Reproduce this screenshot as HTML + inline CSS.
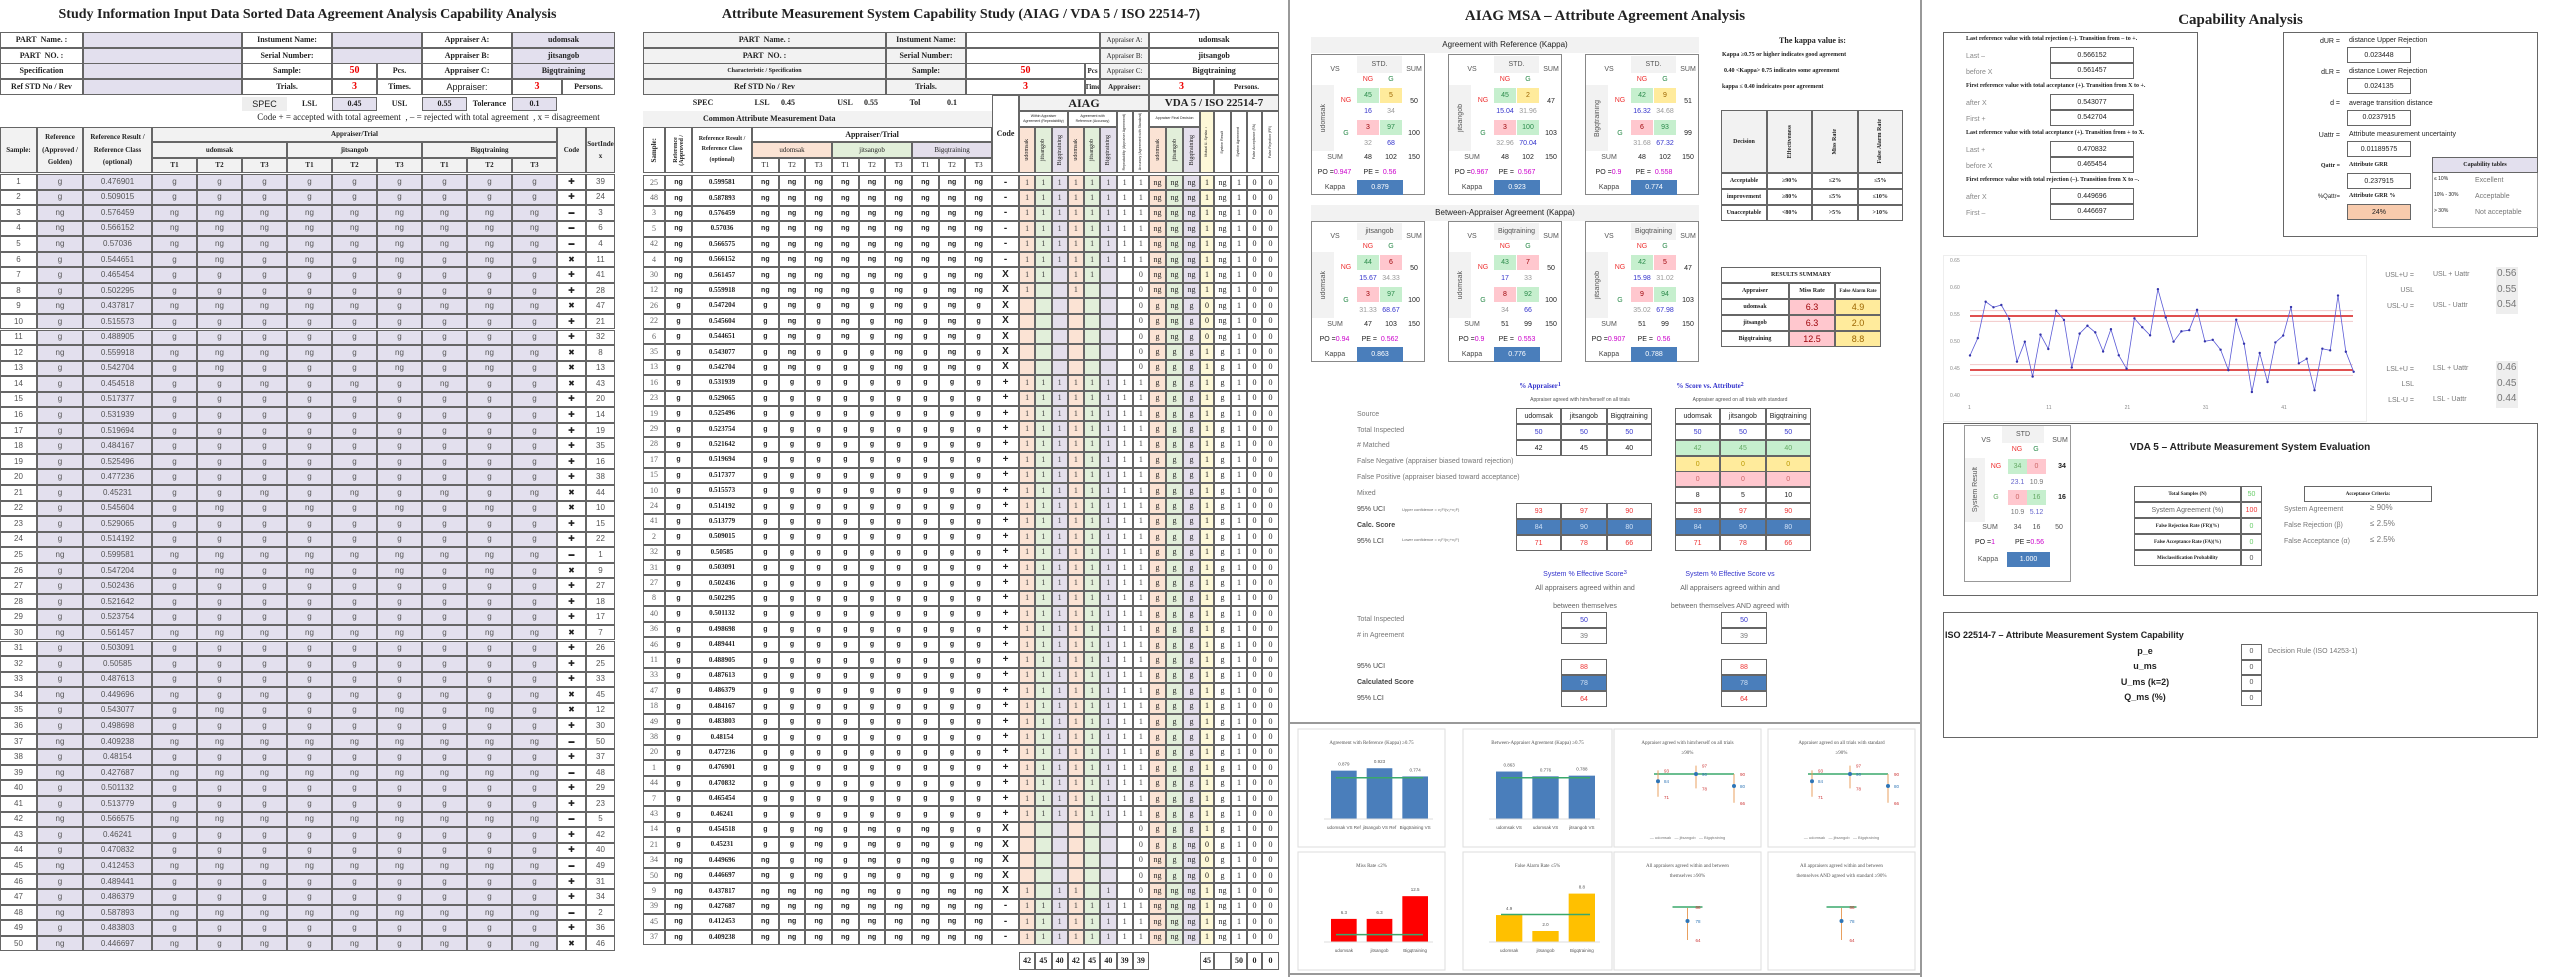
<!DOCTYPE html>
<html><head><meta charset="utf-8">
<style>
*{margin:0;padding:0;box-sizing:border-box}
body{width:2560px;height:977px;background:#fff;position:relative;overflow:hidden;font-family:"Liberation Sans",sans-serif;color:#222}
.c{position:absolute;display:flex;align-items:center;justify-content:center;text-align:center;white-space:nowrap;overflow:hidden;font-size:9px;line-height:1}
.b{border:1px solid #666}
.s{font-family:"Liberation Serif",serif;font-weight:bold}
.t{position:absolute;white-space:nowrap;line-height:1}
.rot{writing-mode:vertical-rl;transform:rotate(180deg)}
</style></head><body>
<div id="root"></div>
<svg id="sv" width="2560" height="977" style="position:absolute;left:0;top:0;pointer-events:none"></svg>
<script>
var R=document.getElementById('root');var html=[];
function c(x,y,w,h,t,st,cls){html.push('<div class="c '+(cls||'')+'" style="left:'+x+'px;top:'+y+'px;width:'+w+'px;height:'+h+'px;'+(st||'')+'">'+(t===undefined?'':t)+'</div>');}
function tx(x,y,t,st){html.push('<div class="t" style="left:'+x+'px;top:'+y+'px;'+(st||'')+'">'+t+'</div>');}
var LAV='#e3e0ee',GR='#f2f2f2',OR='#fbe3d4',GN='#e2efda',PU='#e4dfec',YE='#fdf8d8';
var V=[0.476901,0.509015,0.576459,0.566152,0.57036,0.544651,0.465454,0.502295,0.437817,0.515573,0.488905,0.559918,0.542704,0.454518,0.517377,0.531939,0.519694,0.484167,0.525496,0.477236,0.45231,0.545604,0.529065,0.514192,0.599581,0.547204,0.502436,0.521642,0.523754,0.561457,0.503091,0.50585,0.487613,0.449696,0.543077,0.498698,0.409238,0.48154,0.427687,0.501132,0.513779,0.566575,0.46241,0.470832,0.412453,0.489441,0.486379,0.587893,0.483803,0.446697];
var OFF=[0,0.012,-0.008,0.006,-0.01,0.013,-0.012,0.009,-0.004];
function gres(v,o){var x=v+o;return (x>=0.45&&x<=0.55)?'g':'ng';}
var rows=V.map(function(v,i){var ref=gres(v,0);var tr=OFF.map(function(o){return gres(v,o)});
 var allg=tr.every(function(a){return a=='g'}),alln=tr.every(function(a){return a=='ng'});
 return {s:i+1,v:v,ref:ref,tr:tr,code:allg?'+':(alln?'-':'x')};});
var sorted=rows.slice().sort(function(a,b){return b.v-a.v});
sorted.forEach(function(r,i){r.rank=i+1;});
/* ===== Panel 1 ===== */
c(0,5,615,20,'Study Information Input Data Sorted Data Agreement Analysis Capability Analysis','font-size:14px','s');
var ry=[32,48,63,79];
var L1=['PART&nbsp; Name. :','PART&nbsp; NO. :','Specification','Ref STD No / Rev'];
var L2=['Instument Name:','Serial Number:','Sample:','Trials.'];
var L3=['Appraiser A:','Appraiser B:','Appraiser C:','Appraiser:'];
var V3=['udomsak','jitsangob','Bigqtraining'];
for(var i=0;i<4;i++){var y=ry[i];
 c(0,y,83,16,L1[i],'font-size:8px','b s');c(83,y,159,16,'','background:'+LAV,'b');
 c(242,y,90,16,L2[i],'font-size:8px','b s');
 if(i<2)c(332,y,90,16,'','background:'+LAV,'b');
 else{c(332,y,45,16,i==2?'50':'3','color:#e00;font-size:10px','b s');c(377,y,45,16,i==2?'Pcs.':'Times.','font-size:8px','b s');}
 c(422,y,90,16,L3[i],i==3?'font-size:9px':'font-size:8px',i==3?'b':'b s');
 if(i<3)c(512,y,103,16,V3[i],'background:'+LAV+';font-size:8px','b s');
 else{c(512,y,50,16,'3','color:#e00;font-size:10px','b s');c(562,y,53,16,'Persons.','font-size:8px','b s');}
}
c(242,97,45,14,'SPEC','background:#eee;font-size:9px');c(287,97,45,14,'LSL','font-size:8px','s');
c(332,97,45,14,'0.45','background:'+LAV+';font-size:8px','b s');c(377,97,45,14,'USL','font-size:8px','s');
c(422,97,45,14,'0.55','background:'+LAV+';font-size:8px','b s');c(467,97,45,14,'Tolerance','font-size:8px','s');
c(512,97,45,14,'0.1','background:'+LAV+';font-size:8px','b s');
c(242,111,373,12,'Code + = accepted with total agreement&nbsp; , &ndash; = rejected with total agreement&nbsp; , x = disagreement','font-family:Liberation Serif,serif;font-size:9px');
var hb='background:'+GR+';font-size:7px';
c(0,127,37,46,'Sample:',hb,'b s');c(37,127,46,46,'Reference<br><br>(Approved /<br><br>Golden)',hb+';line-height:0.9','b s');
c(83,127,69,46,'Reference Result /<br><br>Reference Class<br><br>(optional)',hb+';line-height:0.9','b s');
c(152,127,405,15,'Appraiser/Trial',hb,'b s');
for(var a=0;a<3;a++){c(152+a*135,142,135,16,V3[a],hb,'b s');for(var t=0;t<3;t++)c(152+a*135+t*45,158,45,15,'T'+(t+1),hb,'b s');}
c(557,127,29,46,'Code',hb,'b s');c(586,127,29,46,'SortInde<br><br>x',hb+';line-height:0.9','b s');
var RH=15.55;
rows.forEach(function(r,i){var y=174+i*RH,st='background:'+LAV+';color:#555;font-size:8px';
 c(0,y,37,RH,r.s,'color:#555;font-size:8px','b');c(37,y,46,RH,r.ref,st,'b');c(83,y,69,RH,r.v,st,'b');
 for(var t=0;t<9;t++)c(152+t*45,y,45,RH,r.tr[t],st,'b');
 c(557,y,29,RH,r.code=='x'?'&#10006;':(r.code=='+'?'&#10010;':'&#9644;'),'font-size:'+(r.code=='-'?'6':'8')+'px','b');
 c(586,y,29,RH,r.rank,'color:#555;font-size:8px','b');});
/* ===== Panel 2 ===== */
c(643,5,636,20,'Attribute Measurement System Capability Study (AIAG / VDA 5 / ISO 22514-7)','font-size:14px','s');
var P2L=['PART&nbsp; Name. :','PART&nbsp; NO. :','<span style="font-size:6px">Characteristic / Specification</span>','Ref STD No / Rev'];
for(var i=0;i<4;i++){var y=ry[i];
 c(643,y,243,16,P2L[i],'background:'+GR+';font-size:8px','b s');
 c(886,y,80,16,L2[i],'background:'+GR+';font-size:8px','b s');
 if(i<2)c(966,y,134,16,'','','b');else{c(966,y,119,16,i==2?'50':'3','color:#e00;font-size:10px','b s');c(1085,y,15,16,i==2?'Pcs':'Time','font-size:7px','b s');}
 c(1100,y,49,16,L3[i],'background:'+GR+';font-size:7px;font-family:Liberation Serif,serif',i==3?'b s':'b');
 if(i<3)c(1149,y,130,16,V3[i],'font-size:8px','b s');else{c(1149,y,65,16,'3','color:#e00;font-size:10px','b s');c(1214,y,65,16,'Persons.','font-size:7px','b s');}
}
c(643,95,120,16,'SPEC','font-size:8px','s');c(752,95,20,16,'LSL','font-size:8px','s');c(776,95,24,16,'0.45','font-size:8px','s');
c(835,95,20,16,'USL','font-size:8px','s');c(860,95,22,16,'0.55','font-size:8px','s');c(905,95,20,16,'Tol','font-size:8px','s');c(942,95,20,16,'0.1','font-size:8px','s');
c(643,111,349,16,'Common Attribute Measurement Data','background:'+GR+';font-size:8px;justify-content:flex-start;padding-left:60px','s');
c(643,127,22,46,'<span class="rot">Sample:</span>','font-size:7px','b s');
c(665,127,27,46,'<span class="rot">Reference<br>(Approved /</span>','font-size:6px','b s');
c(692,127,60,46,'Reference Result /<br><br>Reference Class<br><br>(optional)','font-size:6px;line-height:0.9','b s');
var TW=26.67,TX=752;
c(TX,127,TW*9,15,'Appraiser/Trial','font-size:8px','b s');
var bc=[OR,GN,PU];
for(var a=0;a<3;a++){c(TX+a*TW*3,142,TW*3,16,V3[a],'background:'+bc[a]+';font-size:7px;font-family:Liberation Serif,serif','b');
 for(var t=0;t<3;t++)c(TX+(a*3+t)*TW,158,TW,15,'T'+(t+1),'font-size:7px;font-family:Liberation Serif,serif','b');}
c(992,95,27,78,'Code','font-size:8px','b s');
c(1019,95,130,16,'AIAG','font-size:12px;background:'+GR,'b s');
c(1149,95,130,16,'VDA 5 / ISO 22514-7','font-size:11px;background:'+GR,'b s');
c(1019,111,49,16,'Within Appraiser<br>Agreement (Repeatability)','font-size:3.5px;line-height:1.4','b');
c(1068,111,49,16,'Agreement with<br>Reference (Accuracy)','font-size:3.5px;line-height:1.4','b');
c(1117,111,16,62,'<span class="rot">Repeatability (Appraiser Agreement)</span>','font-size:3.5px','b');
c(1133,111,16,62,'<span class="rot">Accuracy (Agreement with Standard)</span>','font-size:3.5px','b');
c(1149,111,51,16,'Appraiser Final Decision','font-size:3.5px','b');
var ax=[1019,1035.25,1051.5,1067.75,1084,1100.25];
for(var k=0;k<6;k++)c(ax[k],127,16.25,46,'<span class="rot">'+V3[k%3]+'</span>','font-size:6px;font-family:Liberation Serif,serif;background:'+bc[k%3],'b');
var vx=[1149,1166,1183,1200,1214,1231,1247,1262,1279];
for(var k=0;k<3;k++)c(vx[k],127,17,46,'<span class="rot">'+V3[k]+'</span>','font-size:6px;font-family:Liberation Serif,serif;background:'+bc[k],'b');
var vl=['Mutual U- Syntax ↓','System Result','System Agreement','False Acceptance (FA)','False Rejection (FR)'];
for(var k=3;k<8;k++)c(vx[k],111,vx[k+1]-vx[k],62,'<span class="rot">'+vl[k-3]+'</span>','font-size:3.5px;'+(k==3?'background:'+YE:''),'b');
var RH2=15.4;
sorted.forEach(function(r,i){var y=175+i*RH2,fs='font-size:7px;font-weight:bold';
 c(643,y,22,RH2,r.s,'color:#666;font-size:8px;font-family:Liberation Serif,serif','b');
 c(665,y,27,RH2,r.ref,fs,'b');c(692,y,60,RH2,r.v,'font-size:7px;font-family:Liberation Serif,serif;font-weight:bold','b');
 for(var t=0;t<9;t++)c(TX+t*TW,y,TW,RH2,r.tr[t],fs,'b');
 c(992,y,27,RH2,r.code=='x'?'X':(r.code=='+'?'+':'-'),'font-size:10px;font-weight:bold','b');
 var w=[0,1,2].map(function(a){var s=r.tr.slice(a*3,a*3+3);return s[0]==s[1]&&s[1]==s[2];});
 var acc=[0,1,2].map(function(a){return w[a]&&r.tr[a*3]==r.ref;});
 var rep=r.code!='x',accAll=rep&&r.tr[0]==r.ref;
 var vals=[w[0],w[1],w[2],acc[0],acc[1],acc[2]];
 for(var k=0;k<6;k++)c(ax[k],y,16.25,RH2,vals[k]?'1':'','font-size:8px;font-family:Liberation Serif,serif;color:#444;background:'+bc[k%3],'b');
 c(1116.5,y,16.25,RH2,rep?'1':'','font-size:8px;font-family:Liberation Serif,serif;color:#444','b');
 c(1132.75,y,16.25,RH2,rep?'1':'0','font-size:8px;font-family:Liberation Serif,serif;color:#444','b');
 var fin=[0,1,2].map(function(a){var s=r.tr.slice(a*3,a*3+3),g=s.filter(function(q){return q=='g'}).length;return g>=2?'g':'ng';});
 for(var k=0;k<3;k++)c(vx[k],y,17,RH2,fin[k],'font-size:8px;font-family:Liberation Serif,serif;background:'+bc[k],'b');
 var agr=fin[0]==fin[1]&&fin[1]==fin[2];
 c(1200,y,14,RH2,agr?'1':'0','font-size:8px;font-family:Liberation Serif,serif;background:'+YE,'b');
 c(1214,y,17,RH2,fin[1],'font-size:8px;font-family:Liberation Serif,serif','b');
 c(1231,y,16,RH2,'1','font-size:8px;font-family:Liberation Serif,serif','b');
 c(1247,y,15,RH2,'0','font-size:8px;font-family:Liberation Serif,serif','b');
 c(1262,y,17,RH2,'0','font-size:8px;font-family:Liberation Serif,serif','b');});
var tot=['42','45','40','42','45','40','39','39'];
for(var k=0;k<8;k++)c(1019+k*16.25,952,16.25,18,tot[k],'font-size:8px','b s');
c(1200,952,14,18,'45','font-size:8px','b s');c(1214,952,17,18,'','','b');c(1231,952,16,18,'50','font-size:8px','b s');c(1247,952,15,18,'0','font-size:8px','b s');c(1262,952,17,18,'0','font-size:8px','b s');
/* separators */
c(1288,0,2,977,'','background:#999');c(1920,0,2,977,'','background:#999');
/* ===== Panel 3 ===== */
c(1300,5,610,22,'AIAG MSA &ndash; Attribute Agreement Analysis','font-size:15px','s');
c(1311,37,388,16,'Agreement with Reference (Kappa)','background:'+GR+';font-size:8px');
c(1311,205,388,16,'Between-Appraiser Agreement (Kappa)','background:'+GR+';font-size:8px');
var GC='background:#c6efce;color:#2a8a4a',YC='background:#ffeb9c;color:#9c6500',PC='background:#ffc7ce;color:#9c0006';
function kbox(x,y,lab,hdr,cells,cs,ex,rs,cols,po,pe,kap){
 html.push('<div style="position:absolute;left:'+x+'px;top:'+y+'px;width:114px;height:141px;border:1px solid #888">');
 c(45,1,45,17,hdr,'background:'+GR+';font-size:7px;color:#555');
 c(10,8,26,12,'VS','font-size:7px;color:#555');c(92,8,20,12,'SUM','font-size:7px;color:#555');
 c(45,19,22,10,'NG','font-size:7px;color:#e33');c(68,19,22,10,'G','font-size:7px;color:#2a8a4a');
 c(0,30,22,66,'<span class="rot">'+lab+'</span>','background:'+GR+';font-size:7px;color:#555');
 c(24,38,20,14,'NG','font-size:7px;color:#e33');c(24,71,20,14,'G','font-size:7px;color:#2a8a4a');
 c(45,33,22,15,cells[0],cs[0]+';font-size:7px');c(68,33,22,15,cells[1],cs[1]+';font-size:7px');
 c(45,65,22,15,cells[2],cs[2]+';font-size:7px');c(68,65,22,15,cells[3],cs[3]+';font-size:7px');
 c(45,50,22,12,ex[0],'font-size:7px;color:#33c');c(68,50,22,12,ex[1],'font-size:7px;color:#999');
 c(45,82,22,12,ex[2],'font-size:7px;color:#999');c(68,82,22,12,ex[3],'font-size:7px;color:#33c');
 c(92,40,20,12,rs[0],'font-size:7px');c(92,72,20,12,rs[1],'font-size:7px');
 c(8,96,30,13,'SUM','font-size:7px;color:#555');c(45,96,22,13,cols[0],'font-size:7px');c(68,96,22,13,cols[1],'font-size:7px');c(92,96,20,13,cols[2],'font-size:7px');
 c(0,111,45,13,'PO = <span style="color:#c0c">'+po+'</span>','font-size:7px');c(45,111,46,13,'PE = &nbsp;<span style="color:#c0c">'+pe+'</span>','font-size:7px');
 c(8,125,30,15,'Kappa','font-size:7px;color:#444');c(45,125,46,15,kap,'background:#4a7ebb;color:#fff;font-size:7px');
 html.push('</div>');}
kbox(1311,54,'udomsak','STD.',[45,5,3,97],[GC,YC,PC,GC],['16','34','32','68'],[50,100],[48,102,150],'0.947','0.56','0.879');
kbox(1448,54,'jitsangob','STD.',[45,2,3,100],[GC,YC,PC,GC],['15.04','31.96','32.96','70.04'],[47,103],[48,102,150],'0.967','0.567','0.923');
kbox(1585,54,'Bigqtraining','STD.',[42,9,6,93],[GC,YC,PC,GC],['16.32','34.68','31.68','67.32'],[51,99],[48,102,150],'0.9','0.558','0.774');
kbox(1311,221,'udomsak','jitsangob',[44,6,3,97],[GC,PC,PC,GC],['15.67','34.33','31.33','68.67'],[50,100],[47,103,150],'0.94','0.562','0.863');
kbox(1448,221,'udomsak','Bigqtraining',[43,7,8,92],[GC,PC,PC,GC],['17','33','34','66'],[50,100],[51,99,150],'0.9','0.553','0.776');
kbox(1585,221,'jitsangob','Bigqtraining',[42,5,9,94],[GC,PC,PC,GC],['15.98','31.02','35.02','67.98'],[47,103],[51,99,150],'0.907','0.56','0.788');
c(1722,34,181,14,'The kappa value is:','font-size:8px','s');
tx(1722,52,'Kappa &ge;0.75 or higher indicates good agreement','font-size:6px;font-family:Liberation Serif,serif;font-weight:bold');
tx(1724,68,'0.40 &lt;Kappa&gt; 0.75 indicates some agreement','font-size:6px;font-family:Liberation Serif,serif;font-weight:bold');
tx(1722,84,'kappa &le; 0.40 indeicates poor agreement','font-size:6px;font-family:Liberation Serif,serif;font-weight:bold');
c(1721,110,46,63,'Decision','background:'+GR+';font-size:6px','b s');
var dh=['Effectiveness','Miss Rate','False Alarm Rate'];
for(var k=0;k<3;k++)c(1767+k*45.3,110,45.3,63,'<span class="rot">'+dh[k]+'</span>','background:'+GR+';font-size:6px','b s');
var dr=[['Acceptable','&ge;90%','&le;2%','&le;5%'],['improvement','&ge;80%','&le;5%','&le;10%'],['Unacceptable','&lt;80%','&gt;5%','&gt;10%']];
for(var r=0;r<3;r++){c(1721,173+r*16,46,16,dr[r][0],'font-size:6px','b s');for(var k=0;k<3;k++)c(1767+k*45.3,173+r*16,45.3,16,dr[r][k+1],'font-size:6px','b s');}
c(1721,267,160,16,'RESULTS SUMMARY','font-size:6px','b s');
c(1721,283,68,16,'Appraiser','font-size:6px','b s');c(1789,283,46,16,'Miss Rate','font-size:6px','b s');c(1835,283,46,16,'False Alarm Rate','font-size:5px','b s');
var rs=[['udomsak','6.3','4.9'],['jitsangob','6.3','2.0'],['Bigqtraining','12.5','8.8']];
for(var r=0;r<3;r++){c(1721,299+r*16,68,16,rs[r][0],'font-size:6px','b s');c(1789,299+r*16,46,16,rs[r][1],'background:#ffc7ce;color:#9c0006;font-size:9px','b');c(1835,299+r*16,46,16,rs[r][2],'background:#ffeb9c;color:#9c6500;font-size:9px','b');}
c(1480,380,120,12,'% Appraiser<sup>1</sup>','color:#33c;font-size:7px','s');
c(1650,380,120,12,'% Score vs. Attribute<sup>2</sup>','color:#33c;font-size:7px','s');
c(1490,395,180,10,'Appraiser agreed with him/herself on all trials','font-size:5px;color:#555');
c(1650,395,180,10,'Appraiser agreed on all trials with standard','font-size:5px;color:#555');
var lb=['Source','Total Inspected','# Matched','False Negative (appraiser biased toward rejection)','False Positive (appraiser biased toward acceptance)','Mixed'];
for(var k=0;k<6;k++)tx(1357,411+k*15.7,lb[k],'font-size:7px;color:#777');
tx(1357,506,'95% UCI','font-size:7px;color:#444');tx(1357,522,'Calc. Score','font-size:7px;color:#444;font-weight:bold');tx(1357,538,'95% LCI','font-size:7px;color:#444');
tx(1402,508,'Upper confidence = <span style="font-size:4px">v₂F/(v₁+v₂F)</span>','font-size:4px;color:#666');
tx(1402,538,'Lower confidence = <span style="font-size:4px">v₁F/(v₂+v₁F)</span>','font-size:4px;color:#666');
function small3(x,cols){for(var k=0;k<3;k++){var xx=x+k*45.3;
 c(xx,408,45.3,16,V3[k],'font-size:7px','b');c(xx,424,45.3,16,'50','font-size:7px;color:#33c','b');
 for(var j=0;j<cols.length;j++){var o=cols[j];c(xx,o.y,45.3,o.h||16,o.v[k],'font-size:7px;'+(o.s||''),o.nb?'':'b');}}}
small3(1516,[{y:440,v:['42','45','40']},{y:503,v:['93','97','90'],s:'color:#e33'},{y:519,v:['84','90','80'],s:'background:#4a7ebb;color:#cfe0f5'},{y:535,v:['71','78','66'],s:'color:#e33'}]);
small3(1675,[{y:440,v:['42','45','40'],s:'background:#c6efce;color:#6a6'},{y:456,v:['0','0','0'],s:'background:#ffeb9c;color:#b90'},{y:471,v:['0','0','0'],s:'background:#ffc7ce;color:#c66'},{y:487,v:['8','5','10']},{y:503,v:['93','97','90'],s:'color:#e33'},{y:519,v:['84','90','80'],s:'background:#4a7ebb;color:#cfe0f5'},{y:535,v:['71','78','66'],s:'color:#e33'}]);
c(1500,568,170,12,'System % Effective Score<sup>3</sup>','color:#33c;font-size:7px');
c(1500,582,170,12,'All appraisers agreed within and','font-size:7px;color:#666');
c(1500,600,170,12,'between themselves','font-size:7px;color:#666');
c(1640,568,180,12,'System % Effective Score vs','color:#33c;font-size:7px');
c(1640,582,180,12,'All appraisers agreed within and','font-size:7px;color:#666');
c(1640,600,180,12,'between themselves AND agreed with','font-size:7px;color:#666');
tx(1357,616,'Total Inspected','font-size:7px;color:#777');tx(1357,632,'# in Agreement','font-size:7px;color:#777');
tx(1357,663,'95% UCI','font-size:7px;color:#444');tx(1357,679,'Calculated Score','font-size:7px;color:#444;font-weight:bold');tx(1357,695,'95% LCI','font-size:7px;color:#444');
[1561,1721].forEach(function(x){c(x,612,46,16,'50','font-size:7px;color:#33c','b');c(x,628,46,16,'39','font-size:7px;color:#777','b');
 c(x,659,46,16,'88','font-size:7px;color:#e33','b');c(x,675,46,16,'78','font-size:7px;background:#4a7ebb;color:#cfe0f5','b');c(x,691,46,16,'64','font-size:7px;color:#e33','b');});
c(1290,722,632,2,'','background:#999');c(1290,973,632,2,'','background:#999');
/* ===== Panel 4 ===== */
c(1943,8,595,24,'Capability Analysis','font-size:15px','s');
c(1943,32,255,205,'','','b');c(2283,32,255,205,'','','b');
var hl=['Last reference value with total rejection (&ndash;). Transition from &ndash; to +.','First reference value with total acceptance (+). Transition from X to +.','Last reference value with total acceptance (+). Transition from + to X.','First reference value with total rejection (&ndash;). Transition from X to &ndash;.'];
var sl=[['Last &ndash;','before X'],['after X','First +'],['Last +','before X'],['after X','First &ndash;']];
var sv=[['0.566152','0.561457'],['0.543077','0.542704'],['0.470832','0.465454'],['0.449696','0.446697']];
for(var k=0;k<4;k++){var y0=36+k*47;tx(1966,y0,hl[k],'font-size:6px;font-family:Liberation Serif,serif;font-weight:bold');
 for(var j=0;j<2;j++){tx(1966,y0+17+j*15.7,sl[k][j],'font-size:7px;color:#888');c(2050,y0+11+j*15.7,84,16,sv[k][j],'font-size:7px','b');}}
var ql=[['dUR =','distance Upper Rejection','0.023448'],['dLR =','distance Lower Rejection','0.024135'],['d =','average transition distance','0.0237915'],['Uattr =','Attribute measurement uncertainty','0.01189575']];
for(var k=0;k<4;k++){var y0=36+k*31.4;c(2300,y0,40,10,ql[k][0],'font-size:7px;justify-content:flex-end');tx(2349,y0+1,ql[k][1],'font-size:7px');c(2347,y0+11,64,16,ql[k][2],'font-size:7px','b');}
c(2300,161,40,10,'Qattr =','font-size:6px;justify-content:flex-end','s');tx(2349,162,'Attribute GRR','font-size:6px;font-family:Liberation Serif,serif;font-weight:bold');
c(2347,173,64,16,'0.237915','font-size:7px','b');
c(2300,192,40,10,'%Qattr=','font-size:6px;justify-content:flex-end');tx(2349,193,'Attribute GRR %','font-size:6px;font-family:Liberation Serif,serif;font-weight:bold');
c(2347,204,64,16,'24%','font-size:7px;background:#f8cbad','b');
c(2432,157,106,16,'Capability tables','background:'+LAV+';font-size:6px','b s');
html.push('<div style="position:absolute;left:2432px;top:173px;width:106px;height:55px;border:1px solid #999;border-top:none"></div>');
var ct=[['&le; 10%','Excellent'],['10% - 30%','Acceptable'],['&gt; 30%','Not acceptable']];
for(var k=0;k<3;k++){tx(2434,177+k*16,ct[k][0],'font-size:5px');tx(2475,177+k*16,ct[k][1],'font-size:7px;color:#777');}
c(1943,255,424,167,'','border:1px solid #eee');
var yl=['0.65','0.60','0.55','0.50','0.45','0.40'];
for(var k=0;k<6;k++)tx(1950,259+k*27,yl[k],'font-size:5px;color:#888');
var xl=['1','11','21','31','41'];for(var k=0;k<5;k++)tx(1968+k*78.3,406,xl[k],'font-size:5px;color:#888');
var sl2=[['USL+U =','USL + Uattr','0.56'],['USL','','0.55'],['USL-U =','USL - Uattr','0.54']];
var ll2=[['LSL+U =','LSL + Uattr','0.46'],['LSL','','0.45'],['LSL-U =','LSL - Uattr','0.44']];
c(2496,267,22,47,'','background:#eee');c(2496,361,22,47,'','background:#eee');
for(var k=0;k<3;k++){c(2372,270+k*15.7,42,10,sl2[k][0],'font-size:7px;color:#777;justify-content:flex-end');tx(2433,271+k*15.7,sl2[k][1],'font-size:7px;color:#777');tx(2497,269+k*15.7,sl2[k][2],'font-size:10px;color:#777');
 c(2372,364+k*15.7,42,10,ll2[k][0],'font-size:7px;color:#777;justify-content:flex-end');tx(2433,365+k*15.7,ll2[k][1],'font-size:7px;color:#777');tx(2497,363+k*15.7,ll2[k][2],'font-size:10px;color:#777');}
c(1943,423,595,173,'','','b');
c(2120,441,260,14,'VDA 5 &ndash; Attribute Measurement System Evaluation','font-size:10px;font-weight:bold');
html.push('<div style="position:absolute;left:1964px;top:425px;width:107px;height:157px;border:1px solid #999">');
c(37,0,42,17,'STD','background:'+GR+';font-size:7px;color:#555');c(10,8,22,12,'VS','font-size:7px;color:#555');c(84,8,22,12,'SUM','font-size:7px;color:#555');
c(43,17,18,12,'NG','font-size:7px;color:#e33');c(62,17,18,12,'G','font-size:7px;color:#2a8a4a');
c(0,32,20,64,'<span class="rot">System Result</span>','background:'+GR+';font-size:7px;color:#555');
c(22,33,18,15,'NG','font-size:7px;color:#e33');c(43,33,19,15,'34','background:#c6efce;color:#6a6;font-size:7px');c(62,33,19,15,'0','background:#ffc7ce;color:#c66;font-size:7px');c(88,33,18,15,'34','font-size:7px;font-weight:bold');
c(43,50,19,12,'23.1','font-size:7px;color:#66c');c(62,50,19,12,'10.9','font-size:7px;color:#777');
c(22,64,18,15,'G','font-size:7px;color:#6a6');c(43,64,19,15,'0','background:#ffc7ce;color:#c66;font-size:7px');c(62,64,19,15,'16','background:#c6efce;color:#6a6;font-size:7px');c(88,64,18,15,'16','font-size:7px;font-weight:bold');
c(43,80,19,12,'10.9','font-size:7px;color:#777');c(62,80,19,12,'5.12','font-size:7px;color:#66c');
c(10,94,30,14,'SUM','font-size:7px;color:#555');c(43,94,19,14,'34','font-size:7px;color:#555');c(62,94,19,14,'16','font-size:7px;color:#555');c(84,94,20,14,'50','font-size:7px;color:#555');
c(0,110,40,13,'PO = <span style="color:#c0c">1</span>','font-size:7px');c(42,110,45,13,'PE = <span style="color:#c0c">0.56</span>','font-size:7px');
c(8,126,30,15,'Kappa','font-size:7px;color:#555');c(42,126,43,15,'1.000','background:#4a7ebb;color:#fff;font-size:7px');
html.push('</div>');
var vt=[['Total Samples (N)','50','#6c6'],['System Agreement (%)','100','#e33'],['False Rejection Rate (FR)(%)','0','#6c6'],['False Acceptance Rate (FA)(%)','0','#6c6'],['Misclassification Probability','0','#555']];
for(var k=0;k<5;k++){c(2134,486+k*16,107,16,vt[k][0],k==1?'font-size:7px;color:#666':'font-size:5px','b'+(k==1?'':' s'));c(2241,486+k*16,21,16,vt[k][1],'font-size:7px;color:'+vt[k][2],'b');}
c(2304,486,128,16,'Acceptance Criteria:','font-size:5px','b s');
var ac=[['System Agreement','&ge; 90%'],['False Rejection (&beta;)','&le; 2.5%'],['False Acceptance (&alpha;)','&le; 2.5%']];
for(var k=0;k<3;k++){tx(2284,506+k*16,ac[k][0],'font-size:7px;color:#777');tx(2370,504+k*16,ac[k][1],'font-size:8px;color:#777');}
c(1943,612,595,126,'','','b');
tx(1945,631,'ISO 22514-7 &ndash; Attribute Measurement System Capability','font-size:9px;font-weight:bold');
var il=['p_e','u_ms','U_ms (k=2)','Q_ms (%)'];
for(var k=0;k<4;k++){c(2100,644+k*15.5,90,14,il[k],'font-size:9px;font-weight:bold');c(2241,644+k*15.5,21,15.5,'0','font-size:7px;color:#555','b');}
tx(2268,648,'Decision Rule (ISO 14253-1)','font-size:7px;color:#777');
R.innerHTML=html.join('');
/* SVG graphics */
var s=[];
function Y(v){return 262+(0.65-v)/0.25*135;}
[[0.56,'#f3c8c8',1],[0.55,'#e05050',2],[0.54,'#f3c8c8',1],[0.46,'#f3c8c8',1],[0.45,'#e05050',2],[0.44,'#f3c8c8',1]].forEach(function(l){s.push('<line x1="1970" x2="2353" y1="'+Y(l[0])+'" y2="'+Y(l[0])+'" stroke="'+l[1]+'" stroke-width="'+l[2]+'"/>');});
var pts=V.map(function(v,i){return (1970+i*7.83).toFixed(1)+','+Y(v).toFixed(1)}).join(' ');
s.push('<polyline points="'+pts+'" fill="none" stroke="#5b5bd6" stroke-width="0.8"/>');
V.forEach(function(v,i){s.push('<circle cx="'+(1970+i*7.83)+'" cy="'+Y(v)+'" r="1.2" fill="#3333aa"/>');});
/* bottom charts */
var CH=[[1298,729,147,118],[1463,729,149,118],[1614,729,147,118],[1768,729,147,118],[1298,852,147,118],[1463,852,149,118],[1614,852,147,118],[1768,852,147,118]];
CH.forEach(function(b){s.push('<rect x="'+b[0]+'" y="'+b[1]+'" width="'+b[2]+'" height="'+b[3]+'" fill="#fff" stroke="#ddd"/>');});
var T=['Agreement with Reference (Kappa) &#8805;0.75','Between-Appraiser Agreement (Kappa) &#8805;0.75','Appraiser agreed with him/herself on all trials','Appraiser agreed on all trials with standard','Miss Rate &#8804;2%','False Alarm Rate &#8804;5%','All appraisers agreed within and between','All appraisers agreed within and between'];
var T2=['','','&#8805;90%','&#8805;90%','','','themselves &#8805;90%','themselves AND agreed with standard &#8805;90%'];
CH.forEach(function(b,i){s.push('<text x="'+(b[0]+b[2]/2)+'" y="'+(b[1]+15)+'" font-size="5" text-anchor="middle" fill="#555" font-family="Liberation Serif">'+T[i]+'</text>');
 if(T2[i])s.push('<text x="'+(b[0]+b[2]/2)+'" y="'+(b[1]+25)+'" font-size="5" text-anchor="middle" fill="#555" font-family="Liberation Serif">'+T2[i]+'</text>');});
function bars(b,vals,max,col,lab,thr,labs){var bx=b[0]+28,bw=(b[2]-40)/3,base=b[1]+90,h=55;
 for(var k=0;k<3;k++){var hh=vals[k]/max*h;s.push('<rect x="'+(bx+k*bw+5)+'" y="'+(base-hh)+'" width="'+(bw-10)+'" height="'+hh+'" fill="'+col+'"/>');
  s.push('<text x="'+(bx+k*bw+bw/2)+'" y="'+(base-hh-5)+'" font-size="4.5" text-anchor="middle" fill="#555">'+lab[k]+'</text>');
  s.push('<text x="'+(bx+k*bw+bw/2)+'" y="'+(base+10)+'" font-size="4.5" text-anchor="middle" fill="#555">'+labs[k]+'</text>');}
 var ty=base-thr/max*h;s.push('<line x1="'+(bx+10)+'" x2="'+(bx+3*bw-10)+'" y1="'+ty+'" y2="'+ty+'" stroke="#3aa86b" stroke-width="1.5"/>');
 s.push('<line x1="'+(bx-2)+'" x2="'+(bx+3*bw)+'" y1="'+base+'" y2="'+base+'" stroke="#ddd"/>');}
bars(CH[0],[0.879,0.923,0.774],1,'#4a7ebb',['0.879','0.923','0.774'],0.75,['udomsak VS Ref','jitsangob VS Ref','Bigqtraining VS']);
bars(CH[1],[0.863,0.776,0.788],1,'#4a7ebb',['0.863','0.776','0.788'],0.75,['udomsak VS','udomsak VS','jitsangob VS']);
bars(CH[4],[6.3,6.3,12.5],15,'#ff0000',['6.3','6.3','12.5'],2,['udomsak','jitsangob','Bigqtraining']);
bars(CH[5],[4.9,2.0,8.8],10,'#ffc000',['4.9','2.0','8.8'],5,['udomsak','jitsangob','Bigqtraining']);
function errs(b,d,one){var gy=b[1]+45;
 if(one){var x=b[0]+b[2]/2;s.push('<line x1="'+(x-15)+'" x2="'+(x+15)+'" y1="'+(b[1]+55)+'" y2="'+(b[1]+55)+'" stroke="#3aa86b" stroke-width="1.5"/>');
  s.push('<line x1="'+x+'" x2="'+x+'" y1="'+(b[1]+56)+'" y2="'+(b[1]+88)+'" stroke="#e8a060"/><circle cx="'+x+'" cy="'+(b[1]+69)+'" r="2" fill="#2e75b6"/>');
  s.push('<text x="'+(x+8)+'" y="'+(b[1]+71)+'" font-size="4.5" fill="#2e75b6">78</text><text x="'+(x+8)+'" y="'+(b[1]+90)+'" font-size="4.5" fill="#c33">64</text><text x="'+(x+8)+'" y="'+(b[1]+57)+'" font-size="4.5" fill="#c33">88</text>');return;}
 s.push('<line x1="'+(b[0]+40)+'" x2="'+(b[0]+120)+'" y1="'+gy+'" y2="'+gy+'" stroke="#3aa86b" stroke-width="1.5"/>');
 d.forEach(function(p,k){var x=b[0]+44+k*38,yu=gy-(p[0]-90)*1.2,yc=gy+(90-p[1])*1.2,yl=gy+(90-p[2])*1.2;
  s.push('<line x1="'+x+'" x2="'+x+'" y1="'+yu+'" y2="'+yl+'" stroke="#e8a060"/><circle cx="'+x+'" cy="'+yc+'" r="2" fill="#2e75b6"/>');
  s.push('<text x="'+(x+6)+'" y="'+(yu+2)+'" font-size="4.5" fill="#c33">'+p[0]+'</text><text x="'+(x+6)+'" y="'+(yc+2)+'" font-size="4.5" fill="#2e75b6">'+p[1]+'</text><text x="'+(x+6)+'" y="'+(yl+2)+'" font-size="4.5" fill="#c33">'+p[2]+'</text>');});
 s.push('<text x="'+(b[0]+b[2]/2)+'" y="'+(b[1]+110)+'" font-size="4" text-anchor="middle" fill="#777">— udomsak &#160; — jitsangob &#160; — Bigqtraining</text>');}
errs(CH[2],[[93,84,71],[97,90,78],[90,80,66]]);errs(CH[3],[[93,84,71],[97,90,78],[90,80,66]]);errs(CH[6],null,1);errs(CH[7],null,1);
document.getElementById('sv').innerHTML=s.join('');
</script>
</body></html>
